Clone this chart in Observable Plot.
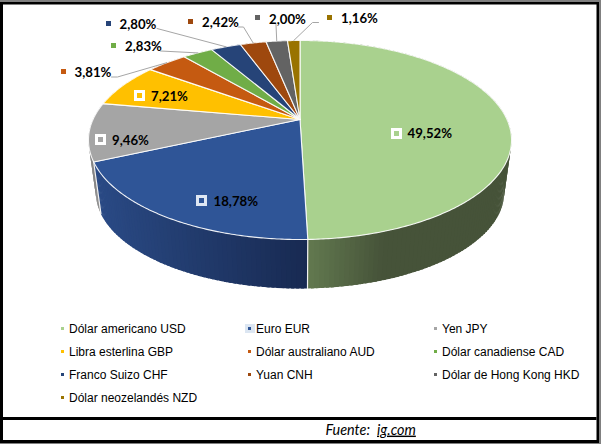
<!DOCTYPE html>
<html>
<head>
<meta charset="utf-8">
<script src="https://cdn.jsdelivr.net/npm/d3@7"></script>
<script src="https://cdn.jsdelivr.net/npm/@observablehq/plot@0.6"></script>
<style>
html,body{margin:0;padding:0;background:#fff}
svg{display:block}
.ig text{text-decoration:underline}
</style>
</head>
<body>
<div id="chart"></div>
<script>
const currencies = ["Dólar americano USD","Euro EUR","Yen JPY","Libra esterlina GBP","Dólar australiano AUD","Dólar canadiense CAD","Franco Suizo CHF","Yuan CNH","Dólar de Hong Kong HKD","Dólar neozelandés NZD"];
const shares = [49.52,18.78,9.46,7.21,3.81,2.83,2.80,2.42,2.00,1.16];
const sliceColors = ["#a9d18e","#2f5597","#a5a5a5","#ffc000","#c55a11","#70ad47","#264478","#9e480e","#636363","#997300"];
const shareLabels = ["49,52%","18,78%","9,46%","7,21%","3,81%","2,83%","2,80%","2,42%","2,00%","1,16%"];

// --- layout of the perspective pie -------------------------------------
const cx = 299.5, cyTop = 119, ax = 207, ay = 95.3, k = 0.206;
const baseCy = 172.2, baseScale = 0.965;
const total = d3.sum(shares);
const ends = d3.cumsum(shares).map(v => v / total * 2 * Math.PI);
const starts = [0, ...ends.slice(0, -1)];
function rim(t) {
  const X = Math.sin(t), Y = -Math.cos(t), w = 1 - k * Y;
  return {x: cx + ax * X / w, y: cyTop + ay * Y / w, Y};
}
function base(t) {
  const p = rim(t);
  return {x: cx + (p.x - cx) * baseScale, y: baseCy + (p.y - cyTop) * baseScale, Y: p.Y};
}
function wallColor(i, x) {
  if (i === 0) {
    return d3.interpolateRgb("#62794f", "#465339")(Math.min(1, Math.max(0, (x - 307) / 75)));
  }
  if (i === 1) {
    return d3.interpolateRgb("#2a4a85", "#182a52")(Math.min(1, Math.max(0, (x - 95) / 212)));
  }
  return d3.color(sliceColors[i]).darker(0.6).formatHex();
}

// top face polygons
const topPts = [];
shares.forEach((_, i) => {
  const n = Math.max(4, Math.ceil((ends[i] - starts[i]) / 0.01));
  topPts.push({id: i, x: cx, y: cyTop, color: sliceColors[i]});
  for (let j = 0; j <= n; j++) {
    const p = rim(starts[i] + (ends[i] - starts[i]) * j / n);
    topPts.push({id: i, x: p.x, y: p.y, color: sliceColors[i]});
  }
  topPts.push({id: i, x: cx, y: cyTop, color: sliceColors[i]});
});

// wall strips, slightly overlapping so no seams show
const strips = [];
shares.forEach((_, i) => {
  const n = Math.max(2, Math.ceil((ends[i] - starts[i]) / 0.02));
  for (let j = 0; j < n; j++) {
    const a = starts[i] + (ends[i] - starts[i]) * j / n;
    const b = starts[i] + (ends[i] - starts[i]) * (j + 1) / n;
    strips.push({i, a, b, Y: rim((a + b) / 2).Y});
  }
});
strips.sort((p, q) => p.Y - q.Y);
const stripPts = [];
strips.forEach((s, id) => {
  const over = 0.006;
  const aa = Math.max(starts[s.i], s.a - over), bb = Math.min(ends[s.i], s.b + over);
  const pts = [rim(aa), rim(bb), base(bb), base(aa)];
  const c = wallColor(s.i, (pts[0].x + pts[1].x) / 2);
  [...pts, pts[0]].forEach(p => stripPts.push({id, x: p.x, y: p.y, color: c}));
});

// white edges on the wall, at the slice borders facing the viewer
const wallEdges = [];
ends.forEach((t, i) => {
  const a = rim(t), b = base(t);
  if (a.Y > 0.1 && i < ends.length - 1) {
    wallEdges.push({id: i, x: a.x, y: a.y}, {id: i, x: b.x, y: b.y});
  }
});

// label placement
const labelLayout = [
  {mx: 396.5, my: 133.5, tx: 407, ty: 133.5, inner: true},
  {mx: 201.5, my: 200.5, tx: 213, ty: 201, inner: true},
  {mx: 100.5, my: 139.5, tx: 111.5, ty: 140, inner: true},
  {mx: 139.5, my: 95.5, tx: 150.5, ty: 96, inner: true},
  {mx: 63.5, my: 71.5, tx: 74, ty: 72, elbow: [[111, 76.5], [117, 76.5]]},
  {mx: 113.5, my: 45.5, tx: 124.5, ty: 46, elbow: [[160, 50.5]]},
  {mx: 108.5, my: 23.5, tx: 119, ty: 24, elbow: [[156.5, 28]]},
  {mx: 190.5, my: 21.5, tx: 201.5, ty: 22, elbow: [[238, 26.5], [243, 26.5]]},
  {mx: 257.5, my: 17.5, tx: 268.5, ty: 19, elbow: [[275.5, 24]]},
  {mx: 329.5, my: 17.5, tx: 340.5, ty: 18, elbow: [[318, 22], [312, 22]]}
];
const labels = labelLayout.map((l, i) => ({...l, i, text: shareLabels[i], color: sliceColors[i]}));
const leaders = [];
labels.filter(l => l.elbow).forEach(l => {
  l.elbow.forEach(e => leaders.push({id: l.i, x: e[0], y: e[1]}));
  const p = rim((starts[l.i] + ends[l.i]) / 2);
  leaders.push({id: l.i, x: p.x, y: p.y});
});

const square = (d, s) => ({x1: d.x - s / 2, x2: d.x + s / 2, y1: d.y - s / 2, y2: d.y + s / 2});
const markerHalo = labels.filter(l => l.inner).map(l => ({...square({x: l.mx, y: l.my}, 11), color: l.i === 1 ? "#dfe7f3" : "#ffffff"}));
const markerCore = labels.map(l => ({...square({x: l.mx, y: l.my}, 5), color: l.color}));

// legend
const legendX = [62.5, 249.5, 435.5], legendY = [328.5, 351.5, 374.5, 397.5];
const legend = currencies.map((name, i) => ({
  name, color: sliceColors[i],
  x: legendX[i % 3], y: legendY[Math.floor(i / 3)]
}));
const legendSquares = legend.map(d => ({...square(d, 3), color: d.color}));

// frame
const frame = [
  {x1: 0, x2: 601, y1: 0, y2: 444, color: "#808080"},
  {x1: 0, x2: 599, y1: 2, y2: 443, color: "#000000"},
  {x1: 3, x2: 596.5, y1: 4.5, y2: 440, color: "#ffffff"},
  {x1: 3, x2: 596.5, y1: 417, y2: 420, color: "#000000"}
];
const rects = (data, opts = {}) => Plot.rect(data, {x1: "x1", x2: "x2", y1: "y1", y2: "y2", fill: "color", inset: 0, ...opts});

const chart = Plot.plot({
  width: 601,
  height: 444,
  margin: 0,
  x: {axis: null, domain: [0, 601], range: [0, 601]},
  y: {axis: null, domain: [0, 444], range: [0, 444]},
  color: {type: "identity"},
  style: {background: "#fff"},
  marks: [
    rects(frame),
    Plot.line(stripPts, {x: "x", y: "y", z: "id", fill: "color", curve: "linear", strokeWidth: 0}),
    Plot.line(wallEdges, {x: "x", y: "y", z: "id", stroke: "#f2f2f2", strokeWidth: 1.2}),
    Plot.line(topPts, {x: "x", y: "y", z: "id", fill: "color", stroke: "#ffffff", strokeWidth: 1.1, strokeOpacity: 0.9, curve: "linear"}),
    Plot.line(leaders, {x: "x", y: "y", z: "id", stroke: "#a6a6a6", strokeWidth: 1}),
    rects(markerHalo),
    rects(markerCore),
    Plot.text(labels, {x: "tx", y: "ty", text: "text", textAnchor: "start", lineAnchor: "middle", fill: "#000", fontFamily: "Lato", fontWeight: 700, fontSize: 13.2}),
    rects([{x1: 245, x2: 255, y1: 324, y2: 333, color: "#dce6f2"}]),
    rects(legendSquares),
    Plot.text(legend, {x: d => d.x + 6, y: "y", text: "name", textAnchor: "start", lineAnchor: "middle", fill: "#000", fontFamily: "Liberation Sans", fontSize: 12}),
    Plot.text([{x: 325, y: 429.5, t: "Fuente:"}], {x: "x", y: "y", text: "t", textAnchor: "start", lineAnchor: "middle", fill: "#000", fontFamily: "Lato", fontStyle: "italic", fontSize: 14.4}),
    Plot.text([{x: 376.5, y: 429.5, t: "ig.com"}], {x: "x", y: "y", text: "t", textAnchor: "start", lineAnchor: "middle", fill: "#000", fontFamily: "Lato", fontStyle: "italic", fontSize: 14.4, className: "ig"})
  ]
});
document.getElementById("chart").appendChild(chart);
</script>
</body>
</html>
